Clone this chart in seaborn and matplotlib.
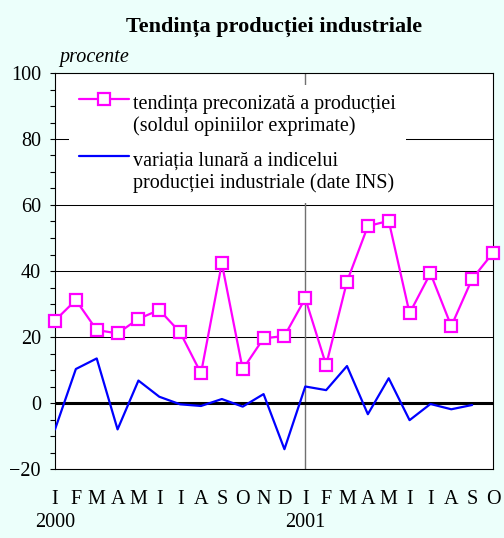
import numpy as np
import pandas as pd
import matplotlib.pyplot as plt
import matplotlib.transforms as mtransforms
from matplotlib.ticker import MultipleLocator
import seaborn as sns

# date (procente), ian 2000 - oct 2001
months = ['I', 'F', 'M', 'A', 'M', 'I', 'I', 'A', 'S', 'O', 'N', 'D',
          'I', 'F', 'M', 'A', 'M', 'I', 'I', 'A', 'S', 'O']
year_labels = ['2000', '2001']
year_start = [0, 12]
tendinta = [25.0, 31.2, 22.1, 21.1, 25.5, 28.2, 21.4, 9.0, 42.3, 10.2, 19.6,
            20.3, 31.7, 11.5, 36.8, 53.6, 55.2, 27.2, 39.3, 23.3, 37.6, 45.5]
variatia = [-8.0, 10.3, 13.5, -8.0, 6.8, 1.9, -0.4, -0.9, 1.2, -1.1, 2.7,
            -14.0, 5.0, 3.9, 11.2, -3.4, 7.5, -5.2, -0.3, -1.9, -0.6, np.nan]

lab_tend = 'tendința preconizată a producției\n(soldul opiniilor exprimate)'
lab_var = 'variația lunară a indicelui\nproducției industriale (date INS)'

df = pd.DataFrame({'luna': np.arange(len(months)),
                   'tendinta': tendinta, 'variatia': variatia})

sns.set_style('ticks')
plt.rcParams['font.family'] = ['Liberation Serif', 'DejaVu Serif']
plt.rcParams['text.color'] = 'black'
plt.rcParams['xtick.color'] = 'black'
plt.rcParams['ytick.color'] = 'black'
fs = 14.5

bg = '#ecfffb'
fig = plt.figure(figsize=(5.04, 5.38), dpi=100, facecolor=bg)
ax = fig.add_axes([55/504, 69/538, 438/504, 396/538])
ax.set_facecolor('white')

# gridlines, zero line and the 2001 separator
for v in [20, 40, 60, 80]:
    ax.axhline(v, color='black', lw=0.75, zorder=1)
ax.axhline(0, color='black', lw=2.2, zorder=2)
ax.axvline(12, color='#707070', lw=1.0, zorder=1)

sns.lineplot(data=df, x='luna', y='tendinta', ax=ax, color='#ff00ff', lw=1.6,
             marker='s', markersize=8, markerfacecolor='white',
             markeredgecolor='#ff00ff', markeredgewidth=1.6, label=lab_tend,
             zorder=4, clip_on=False)
sns.lineplot(data=df.dropna(), x='luna', y='variatia', ax=ax, color='#0000ff',
             lw=1.6, label=lab_var, zorder=3)

ax.set_xlim(0, 21)
ax.set_ylim(-20, 100)
ax.yaxis.set_major_locator(MultipleLocator(20))
ax.yaxis.set_minor_locator(MultipleLocator(5))
ax.tick_params(axis='y', which='both', direction='out', length=3.6, width=0.8,
               pad=6.5, labelsize=fs, color='black', labelcolor='black')
ax.set_xticks(df['luna'])
ax.set_xticklabels(months)
ax.tick_params(axis='x', length=0, pad=15, labelsize=fs, labelcolor='black')
ax.set_xlabel('')
ax.set_ylabel('')
for s in ax.spines.values():
    s.set_color('black')
    s.set_linewidth(0.8)

trans = mtransforms.blended_transform_factory(ax.transData, fig.transFigure)
for lab, pos in zip(year_labels, year_start):
    ax.text(pos, 1 - 527/538, lab, transform=trans, ha='center',
            va='baseline', fontsize=fs)

leg = ax.legend(loc='upper left', bbox_to_anchor=(0.032, 0.97),
                borderaxespad=0, frameon=True, fancybox=False, framealpha=1,
                facecolor='white', edgecolor='none', fontsize=fs,
                handlelength=2.5, handletextpad=0.2, labelspacing=0.8,
                borderpad=0.5)
leg.set_zorder(5)
for t in leg.get_texts():
    t.set_linespacing(1.15)
    t.set_color('black')
# handle next to the first line of each label, as in the original
for h in leg.legend_handles:
    h.set_ydata(np.asarray(h.get_ydata()) + 12)

fig.text(274/504, 1 - 32/538, 'Tendința producției industriale',
         ha='center', va='baseline', fontsize=16, fontweight='bold')
fig.text(59/504, 1 - 62/538, 'procente', ha='left', va='baseline',
         fontsize=fs, style='italic')

fig.savefig('out.png', dpi=100, facecolor=bg)
